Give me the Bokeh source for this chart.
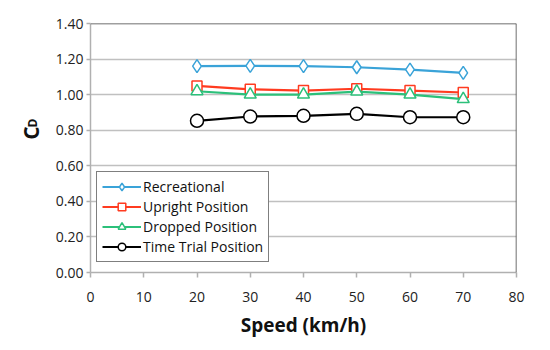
import math
from bokeh.plotting import figure
from bokeh.layouts import row
from bokeh.core.properties import value
from bokeh.models import Span, Legend, LegendItem, NumeralTickFormatter, FixedTicker, Range1d
from bokeh.embed import file_html
from bokeh.resources import INLINE

speed = [20, 30, 40, 50, 60, 70]
recreational = [1.160, 1.162, 1.160, 1.154, 1.141, 1.122]
upright = [1.049, 1.030, 1.023, 1.033, 1.023, 1.012]
dropped = [1.019, 1.000, 1.000, 1.017, 1.000, 0.975]
time_trial = [0.853, 0.877, 0.881, 0.892, 0.873, 0.873]

x_ticks = [0, 10, 20, 30, 40, 50, 60, 70, 80]
y_ticks = [0.0, 0.2, 0.4, 0.6, 0.8, 1.0, 1.2, 1.4]
y_label_main = "C"
y_label_sub = "D"

FONT = "Open Sans"
LABEL_W = 40

p = figure(width=550 - LABEL_W, height=350, output_backend="svg", toolbar_location=None,
           x_range=Range1d(0, 80), y_range=Range1d(0, 1.4),
           min_border_left=90 - LABEL_W, min_border_right=34, min_border_top=23, min_border_bottom=78)
p.outline_line_color = None
p.background_fill_color = "white"
p.border_fill_color = "white"

p.xgrid.grid_line_color = None
p.ygrid.grid_line_color = "#c0c0c0"
p.ygrid.grid_line_width = 1.5

p.xaxis.ticker = FixedTicker(ticks=x_ticks)
p.yaxis.ticker = FixedTicker(ticks=y_ticks)
p.yaxis.formatter = NumeralTickFormatter(format="0.00")
for ax in (p.xaxis, p.yaxis):
    ax.axis_line_color = "#b0b0b0"
    ax.axis_line_width = 1.5
    ax.major_tick_line_color = "#b0b0b0"
    ax.major_tick_line_width = 1.5
    ax.major_tick_out = 5
    ax.major_tick_in = 0
    ax.minor_tick_line_color = None
    ax.major_label_text_font = FONT
    ax.major_label_text_font_size = "14px"
    ax.major_label_text_color = "#222222"
p.xaxis.major_label_standoff = 14
p.yaxis.major_tick_out = 4
p.yaxis.major_label_standoff = 3

p.xaxis.axis_label = "Speed (km/h)"
p.xaxis.axis_label_text_font = FONT
p.xaxis.axis_label_text_font_style = "bold"
p.xaxis.axis_label_text_font_size = "19px"
p.xaxis.axis_label_text_color = "#111111"
p.xaxis.axis_label_standoff = 7

# frame top and right borders
p.add_layout(Span(location=1.4, dimension="width", line_color="#404040", line_width=1.5))
p.add_layout(Span(location=80, dimension="height", line_color="#404040", line_width=1.5))

series = [
    ("Recreational", recreational, "#3aa3d8", "diamond", 13),
    ("Upright Position", upright, "#ff3b20", "square", 10),
    ("Dropped Position", dropped, "#2cc07a", "triangle", 12),
    ("Time Trial Position", time_trial, "#000000", "circle", 13),
]
items = []
for name, ys, color, marker, size in series:
    r1 = p.line(speed, ys, line_color=color, line_width=2.2)
    r2 = p.scatter(speed, ys, marker=marker, size=size, line_color=color,
                   fill_color="white", line_width=1.5)
    items.append(LegendItem(label=name, renderers=[r1, r2]))

legend = Legend(items=items, location=(6, 10))
legend.border_line_color = "black"
legend.border_line_width = 1.2
legend.background_fill_alpha = 1
legend.label_text_font = FONT
legend.label_text_font_size = "14px"
legend.label_text_color = "#111111"
legend.glyph_width = 39
legend.glyph_height = 19
legend.label_height = 19
legend.spacing = 1
legend.padding = 5
legend.margin = 0
legend.label_standoff = 2
p.add_layout(legend, "center")

# Separate narrow panel holding the rotated y-axis title C_D
lab = figure(width=LABEL_W, height=350, output_backend="svg", toolbar_location=None,
             x_range=Range1d(0, LABEL_W), y_range=Range1d(0, 350),
             min_border=0, outline_line_color=None)
lab.axis.visible = False
lab.grid.visible = False
lab.background_fill_color = "white"
lab.border_fill_color = "white"
lab.text(x=[30], y=[196], text=[y_label_main], angle=math.pi / 2,
         text_font=value(FONT), text_font_style="bold", text_font_size="21px",
         text_color="#111111", text_align="center", text_baseline="alphabetic")
lab.text(x=[32], y=[210], text=[y_label_sub], angle=math.pi / 2,
         text_font=value(FONT), text_font_style="bold", text_font_size="12px",
         text_color="#111111", text_align="center", text_baseline="alphabetic")

layout = row(lab, p, spacing=0)
open("out.html", "w").write(file_html(layout, INLINE))
